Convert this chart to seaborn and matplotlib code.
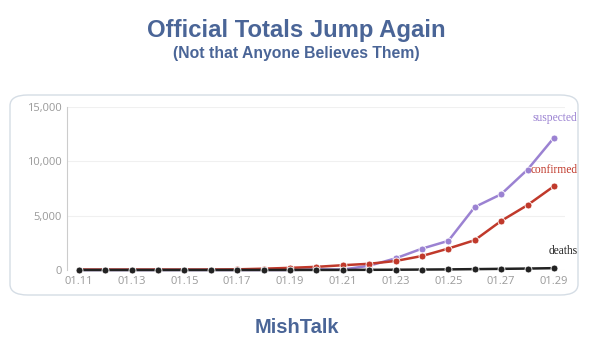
import pandas as pd
import matplotlib.pyplot as plt
import seaborn as sns
from matplotlib.patches import FancyBboxPatch

# datos diarios (01.11 - 01.29)
fechas = ["01.11", "01.12", "01.13", "01.14", "01.15", "01.16", "01.17", "01.18", "01.19", "01.20",
          "01.21", "01.22", "01.23", "01.24", "01.25", "01.26", "01.27", "01.28", "01.29"]
suspected = [0, 0, 0, 0, 0, 0, 0, 0, 0, 54, 37, 393, 1072, 1965, 2684, 5794, 6973, 9239, 12167]
confirmed = [41, 41, 41, 41, 41, 45, 62, 121, 198, 291, 440, 571, 830, 1287, 1975, 2744, 4515, 5974, 7711]
deaths = [1, 1, 1, 1, 2, 2, 2, 3, 3, 6, 9, 17, 25, 41, 56, 80, 106, 132, 170]

colores = {"suspected": "#9b82d2", "confirmed": "#c0392b", "deaths": "#222222"}
azul = "#4a6597"

df = pd.DataFrame({"fecha": fechas, "suspected": suspected,
                   "confirmed": confirmed, "deaths": deaths})
df["x"] = range(len(df))
largo = df.melt(id_vars=["fecha", "x"], var_name="serie", value_name="valor")

sns.set_style("white")
fig = plt.figure(figsize=(5.95, 3.58), dpi=100)

# marco redondeado
marco = FancyBboxPatch((10 / 595, 1 - 295 / 358), 568 / 595, 200 / 358,
                       boxstyle="round,pad=0,rounding_size=0.03",
                       transform=fig.transFigure, facecolor="white",
                       edgecolor="#d5dde5", lw=1.0, zorder=-1)
fig.patches.append(marco)

ax = fig.add_axes([67 / 595, 1 - 270 / 358, (565 - 67) / 595, (270 - 107) / 358])
ax.set_zorder(2)
ax.patch.set_alpha(0)

sns.lineplot(data=largo, x="x", y="valor", hue="serie",
             hue_order=["suspected", "confirmed", "deaths"], palette=colores,
             marker="o", markersize=5, markeredgewidth=0.6, markeredgecolor="white",
             linewidth=1.8, legend=False, ax=ax, clip_on=False)

ax.set_xlim(-0.45, 18.42)
ax.set_ylim(0, 15000)
ax.set_yticks([0, 5000, 10000, 15000])
ax.set_yticklabels(["0", "5,000", "10,000", "15,000"])
ax.set_xticks(range(0, len(fechas), 2))
ax.set_xticklabels(fechas[::2])
ax.set_xlabel("")
ax.set_ylabel("")
ax.grid(axis="y", color="#f0f0f0", lw=0.8)
for lado in ["top", "right", "bottom"]:
    ax.spines[lado].set_visible(False)
ax.spines["left"].set_color("#cccccc")
ax.tick_params(axis="both", length=0, labelsize=8, labelcolor="#999999", pad=4)
for t in ax.get_xticklabels() + ax.get_yticklabels():
    t.set_fontfamily("Open Sans")

# etiquetas al final de cada serie
ultimo = len(fechas) - 1
etiquetas = [("suspected", suspected[-1], 10), ("confirmed", confirmed[-1], 7), ("deaths", deaths[-1], 8)]
for nombre, valor, dy in etiquetas:
    ax.annotate(nombre, (ultimo, valor), xytext=(17, dy), textcoords="offset points",
                ha="right", va="bottom", fontsize=8.3, color=colores[nombre],
                family="Liberation Serif", annotation_clip=False)

# titulos
fig.text(296 / 595, 1 - 37 / 358, "Official Totals Jump Again", ha="center", va="baseline",
         fontsize=17.2, fontweight="bold", color=azul, family="Liberation Sans")
fig.text(296 / 595, 1 - 58 / 358, "(Not that Anyone Believes Them)", ha="center", va="baseline",
         fontsize=11.3, fontweight="bold", color=azul, family="Liberation Sans")
fig.text(297 / 595, 1 - 333 / 358, "MishTalk", ha="center", va="baseline",
         fontsize=14.5, fontweight="bold", color=azul, family="Liberation Sans")

fig.savefig("out.png", dpi=100)
